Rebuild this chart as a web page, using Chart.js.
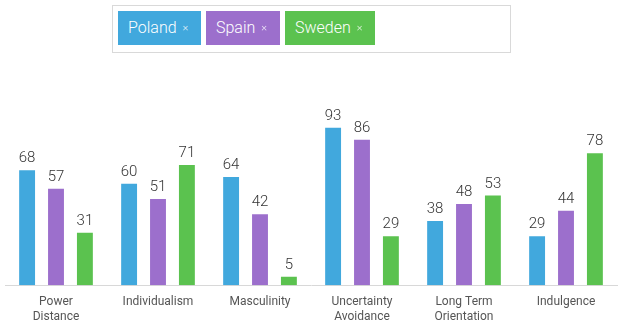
<!DOCTYPE html>
<html>
<head>
<meta charset="utf-8">
<script src="https://cdn.jsdelivr.net/npm/chart.js@4.4.1/dist/chart.umd.min.js"></script>
<style>
  body { margin: 0; background: #fff; font-family: Roboto, sans-serif; }
  #legend {
    position: absolute; left: 112px; top: 5px; width: 397px; height: 46px;
    border: 1px solid #d9d9d9; box-sizing: content-box;
  }
  .tag {
    position: absolute; top: 5px; height: 34px; line-height: 34px;
    color: #fff; font-size: 16px; font-weight: 300; padding-left: 10px; box-sizing: border-box;
  }
  .tag span { font-size: 11px; margin-left: 6px; opacity: 0.8; position: relative; top: -2px; }
  #wrap { position: absolute; left: 0; top: 0; width: 624px; height: 335px; }
</style>
</head>
<body>
<div id="wrap"><canvas id="chart"></canvas></div>
<div id="legend"></div>
<script>
// Hofstede dimensions
const categories = [['Power', 'Distance'], 'Individualism', 'Masculinity', ['Uncertainty', 'Avoidance'], ['Long Term', 'Orientation'], 'Indulgence'];
const countries = ['Poland', 'Spain', 'Sweden'];
const poland = [68, 60, 64, 93, 38, 29];
const spain = [57, 51, 42, 86, 48, 44];
const sweden = [31, 71, 5, 29, 53, 78];
const colors = ['#41a8dd', '#9c6fcc', '#5bc24f'];

// legend tags (html, like the original widget)
const legend = document.getElementById('legend');
const tagPos = [[5, 83], [93, 74], [172, 90]];
countries.forEach((name, i) => {
  const d = document.createElement('div');
  d.className = 'tag';
  d.style.left = tagPos[i][0] + 'px';
  d.style.width = tagPos[i][1] + 'px';
  d.style.background = colors[i];
  d.innerHTML = name + '<span>×</span>';
  legend.appendChild(d);
});

// value labels above bars
const valueLabels = {
  id: 'valueLabels',
  afterDatasetsDraw(chart) {
    const ctx = chart.ctx;
    ctx.save();
    ctx.font = '300 15px Roboto';
    ctx.fillStyle = '#333';
    ctx.textAlign = 'center';
    ctx.textBaseline = 'bottom';
    chart.data.datasets.forEach((ds, i) => {
      chart.getDatasetMeta(i).data.forEach((bar, j) => {
        ctx.fillText(ds.data[j], bar.x, bar.y - 4);
      });
    });
    ctx.restore();
  }
};

const ctx = document.getElementById('chart').getContext('2d');
new Chart(ctx, {
  type: 'bar',
  data: {
    labels: categories,
    datasets: [
      { label: countries[0], data: poland, backgroundColor: colors[0] },
      { label: countries[1], data: spain, backgroundColor: colors[1] },
      { label: countries[2], data: sweden, backgroundColor: colors[2] }
    ]
  },
  options: {
    responsive: true,
    maintainAspectRatio: false,
    animation: false,
    categoryPercentage: 0.85,
    barPercentage: 0.55,
    layout: { padding: { top: 116, left: 5, right: 7, bottom: 9 } },
    plugins: {
      legend: { display: false },
      tooltip: { enabled: false }
    },
    scales: {
      x: {
        grid: { display: false },
        border: { color: '#d8d8d8' },
        ticks: { color: '#555', font: { family: 'Roboto', size: 12 }, maxRotation: 0, padding: 2 }
      },
      y: { display: false, min: 0, max: 100 }
    }
  },
  plugins: [valueLabels]
});
</script>
</body>
</html>
